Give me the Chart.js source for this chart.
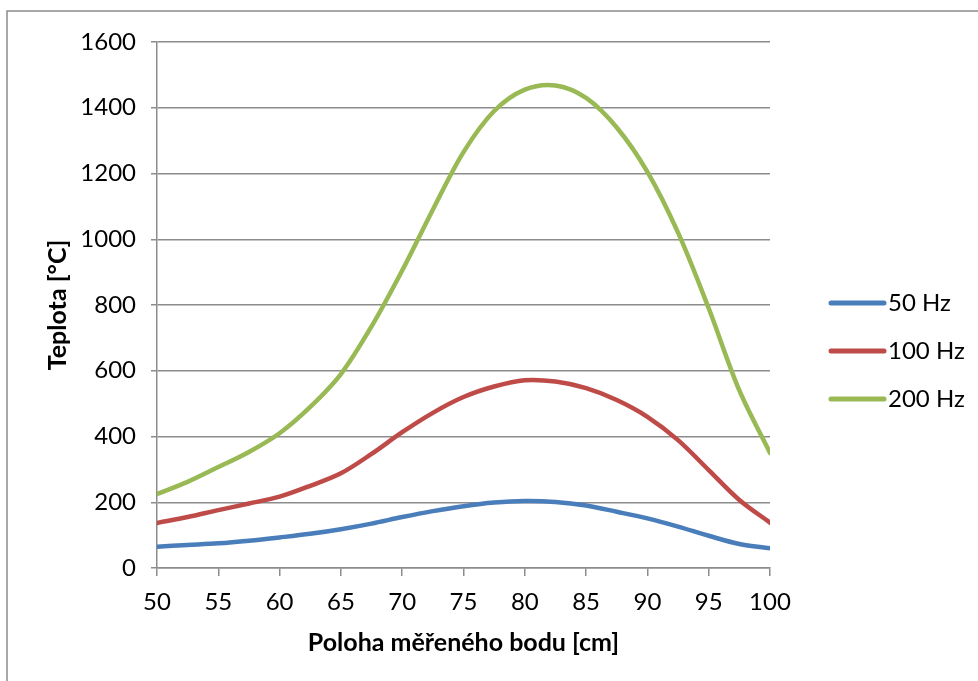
<!DOCTYPE html>
<html>
<head>
<meta charset="utf-8">
<script src="https://cdn.jsdelivr.net/npm/chart.js@4/dist/chart.umd.min.js"></script>
<style>
  html, body { margin: 0; padding: 0; background: #ffffff; }
  canvas { display: block; }
</style>
</head>
<body>
<canvas id="c" width="978" height="681"></canvas>
<script>
// Measurement positions along the part [cm]
const positions = [50, 52.5, 55, 57.5, 60, 62.5, 65, 67.5, 70, 72.5, 75, 77.5, 80, 82.5, 85, 87.5, 90, 92.5, 95, 97.5, 100];
// Temperatures [°C] for each frequency
const temp50Hz  = [65, 70, 75, 83, 93, 104, 118, 135, 155, 173, 188, 199, 204, 201, 190, 171, 151, 126, 98, 73, 60];
const temp100Hz = [137, 155, 176, 196, 217, 250, 288, 347, 413, 472, 520, 552, 571, 567, 547, 511, 460, 389, 298, 207, 138];
const temp200Hz = [225, 262, 307, 353, 410, 490, 590, 735, 905, 1090, 1265, 1390, 1455, 1468, 1430, 1340, 1205, 1020, 790, 540, 350];
const seriesLabels = ['50 Hz', '100 Hz', '200 Hz'];
const seriesColors = ['#4a7ebb', '#be4b48', '#98b954'];
const yTicks = [0, 200, 400, 600, 800, 1000, 1200, 1400, 1600];
const xTitle = 'Poloha měřeného bodu [cm]';
const yTitle = 'Teplota [°C]';

const FONT = 'Lato, "Open Sans", "DejaVu Sans", sans-serif';
const GRID = '#8c8c8c';

function toPoints(values) {
  return positions.map((p, i) => ({ x: p, y: values[i] }));
}

const datasets = [temp50Hz, temp100Hz, temp200Hz].map((vals, i) => ({
  label: seriesLabels[i],
  data: toPoints(vals),
  borderColor: seriesColors[i],
  backgroundColor: seriesColors[i],
  borderWidth: 4.5,
  pointRadius: 0,
  tension: 0.33,
  fill: false,
  borderCapStyle: 'round',
  borderJoinStyle: 'round'
}));

// Frame, axis titles and legend drawn on the canvas
const decorations = {
  id: 'decorations',
  beforeDraw(chart) {
    const ctx = chart.ctx;
    ctx.save();
    ctx.fillStyle = '#ffffff';
    ctx.fillRect(0, 0, chart.width, chart.height);
    ctx.strokeStyle = GRID;
    ctx.lineWidth = 1.5;
    ctx.strokeRect(7, 11, chart.width + 20, chart.height + 20);
    ctx.restore();
  },
  afterDraw(chart) {
    const ctx = chart.ctx;
    const area = chart.chartArea;
    ctx.save();
    ctx.fillStyle = '#000000';
    ctx.font = 'bold 25px ' + FONT;
    ctx.textAlign = 'center';
    ctx.textBaseline = 'middle';
    ctx.fillText(xTitle, (area.left + area.right) / 2, 643);
    ctx.translate(58, 305);
    ctx.rotate(-Math.PI / 2);
    ctx.fillText(yTitle, 0, 0);
    ctx.restore();

    // legend
    ctx.save();
    ctx.font = '24px ' + FONT;
    ctx.textAlign = 'left';
    ctx.textBaseline = 'middle';
    chart.data.datasets.forEach((ds, i) => {
      const y = 303 + i * 48;
      ctx.strokeStyle = ds.borderColor;
      ctx.lineWidth = 5;
      ctx.lineCap = 'round';
      ctx.beginPath();
      ctx.moveTo(831, y);
      ctx.lineTo(884, y);
      ctx.stroke();
      ctx.fillStyle = '#000000';
      ctx.fillText(ds.label, 888, y);
    });
    ctx.restore();
  }
};

new Chart(document.getElementById('c'), {
  type: 'line',
  data: { datasets },
  plugins: [decorations],
  options: {
    responsive: false,
    animation: false,
    layout: { padding: { top: 42, right: 208, left: 0, bottom: 0 } },
    plugins: { legend: { display: false }, tooltip: { enabled: false } },
    scales: {
      x: {
        type: 'linear',
        min: 50,
        max: 100,
        afterFit(scale) { scale.height = 113; },
        afterBuildTicks(scale) { scale.ticks = positions.filter(p => p % 5 === 0).map(v => ({ value: v })); },
        ticks: { color: '#000000', font: { family: FONT, size: 24 }, padding: 12, maxRotation: 0, callback: v => String(v) },
        grid: { drawOnChartArea: false, drawTicks: true, tickLength: 8, color: GRID, lineWidth: 1.5 },
        border: { color: GRID, width: 1.5 }
      },
      y: {
        min: 0,
        max: 1600,
        afterFit(scale) { scale.width = 157; },
        afterBuildTicks(scale) { scale.ticks = yTicks.map(v => ({ value: v })); },
        ticks: { color: '#000000', font: { family: FONT, size: 24 }, padding: 15, callback: v => String(v) },
        grid: { color: GRID, lineWidth: 1.5, drawTicks: true, tickLength: 6 },
        border: { color: GRID, width: 1.5 }
      }
    }
  }
});
</script>
</body>
</html>
